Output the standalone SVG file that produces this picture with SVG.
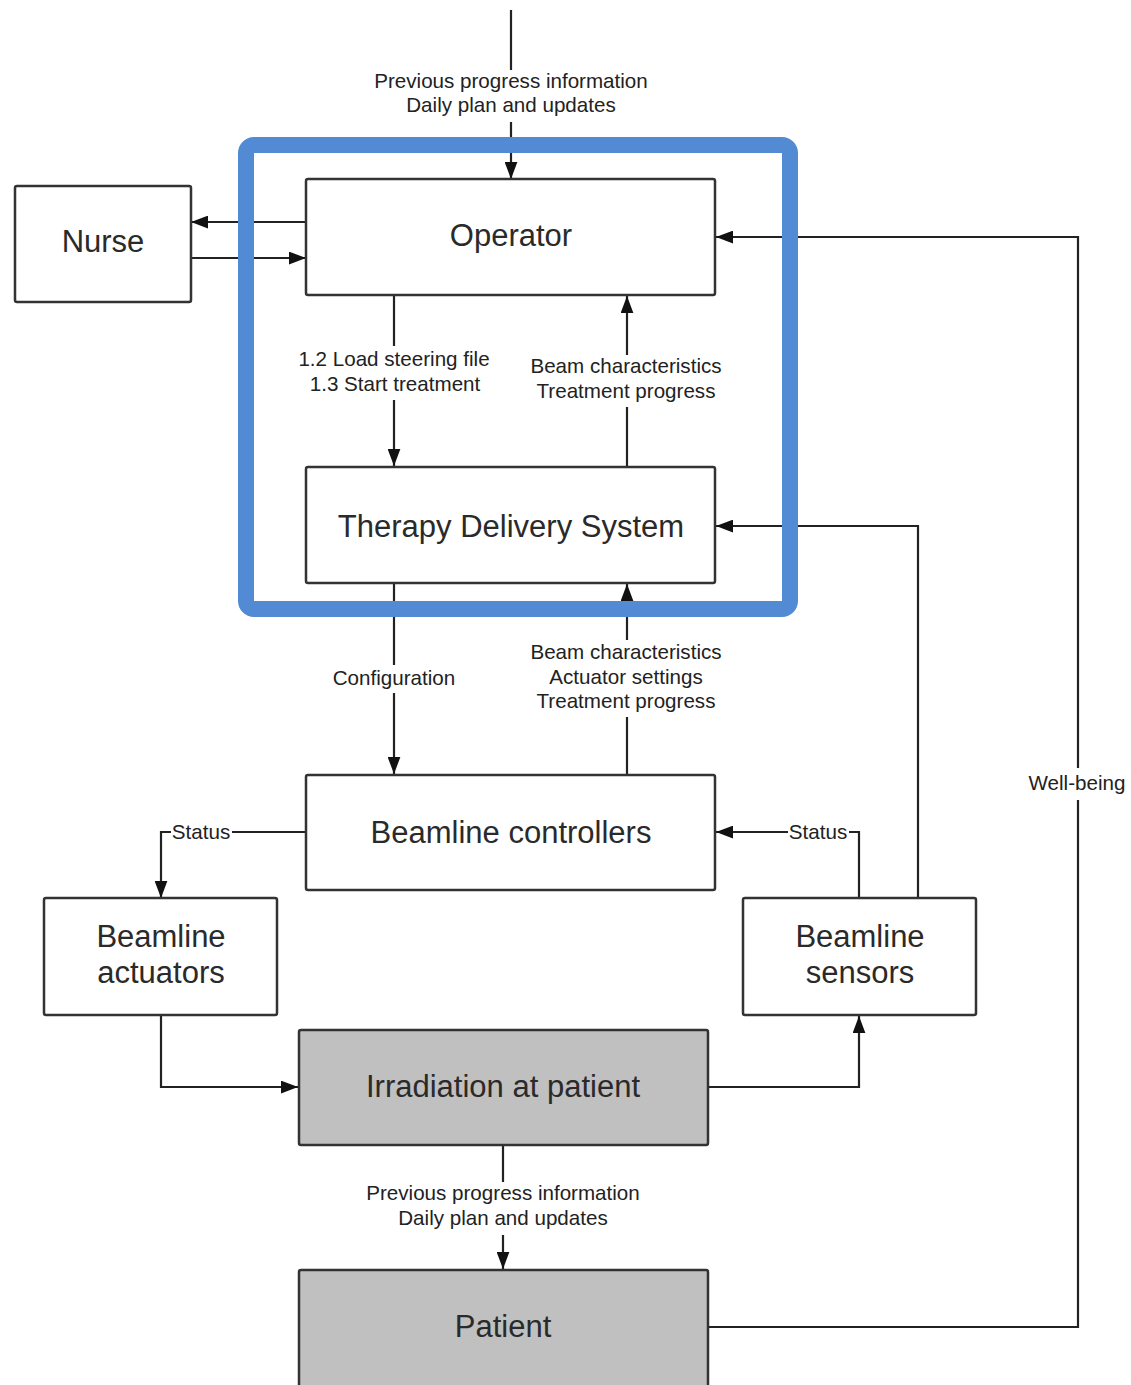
<svg xmlns="http://www.w3.org/2000/svg" width="1131" height="1385" viewBox="0 0 1131 1385">
  <style>
    .box { fill: #ffffff; stroke: #333333; stroke-width: 2.5; }
    .grey { fill: #c0c0c0; }
    .node { font-family: "Liberation Sans", Arial, sans-serif; font-size: 31px; fill: #2a2a2a; text-anchor: middle; }
    .lbl { font-family: "Liberation Sans", Arial, sans-serif; font-size: 20.6px; fill: #222222; text-anchor: middle; }
    .wire { fill: none; stroke: #222222; stroke-width: 2.2; }
    .arr { marker-end: url(#head); }
  </style>
  <defs>
    <marker id="head" viewBox="0 0 16 12" refX="16" refY="6" markerWidth="17" markerHeight="13" markerUnits="userSpaceOnUse" orient="auto">
      <path d="M0,0 L16,6 L0,12 z" fill="#111111"/>
    </marker>
  </defs>

  <rect width="1131" height="1385" fill="#ffffff"/>

  <!-- connectors -->
  <g id="connectors">
    <!-- incoming plan information -->
    <path class="wire" d="M511,10 V70"/>
    <path class="wire arr" d="M511,122 V179"/>
    <!-- operator / nurse -->
    <path class="wire arr" d="M312,222 H191"/>
    <path class="wire arr" d="M191,258 H306"/>
    <!-- operator to therapy delivery system -->
    <path class="wire" d="M394,295 V346"/>
    <path class="wire arr" d="M394,400 V466"/>
    <!-- therapy delivery system to operator -->
    <path class="wire" d="M627,467 V407"/>
    <path class="wire arr" d="M627,355 V296"/>
    <!-- configuration -->
    <path class="wire" d="M394,583 V665"/>
    <path class="wire arr" d="M394,693 V774"/>
    <!-- controllers feedback -->
    <path class="wire" d="M627,775 V717"/>
    <path class="wire arr" d="M627,640 V584"/>
    <!-- status to actuators -->
    <path class="wire" d="M306,832 H232"/>
    <path class="wire arr" d="M171,832 H161 V898"/>
    <!-- status from sensors -->
    <path class="wire" d="M859,898 V832 H849"/>
    <path class="wire arr" d="M788,832 H716"/>
    <!-- sensors to therapy delivery system -->
    <path class="wire arr" d="M918,898 V526 H716"/>
    <!-- actuators to irradiation -->
    <path class="wire arr" d="M161,1015 V1087 H298"/>
    <!-- irradiation to sensors -->
    <path class="wire arr" d="M708,1087 H859 V1016"/>
    <!-- irradiation to patient -->
    <path class="wire" d="M503,1145 V1182"/>
    <path class="wire arr" d="M503,1235 V1269"/>
    <!-- well-being loop -->
    <path class="wire" d="M708,1327 H1078 V800"/>
    <path class="wire arr" d="M1078,768 V237 H716"/>

    <!-- connector labels -->
    <text class="lbl" x="511" y="88">Previous progress information</text>
    <text class="lbl" x="511" y="112">Daily plan and updates</text>
    <text class="lbl" x="394" y="366">1.2 Load steering file</text>
    <text class="lbl" x="395" y="391">1.3 Start treatment</text>
    <text class="lbl" x="626" y="373">Beam characteristics</text>
    <text class="lbl" x="626" y="398">Treatment progress</text>
    <text class="lbl" x="394" y="685">Configuration</text>
    <text class="lbl" x="626" y="659">Beam characteristics</text>
    <text class="lbl" x="626" y="684">Actuator settings</text>
    <text class="lbl" x="626" y="708">Treatment progress</text>
    <text class="lbl" x="201" y="839">Status</text>
    <text class="lbl" x="818" y="839">Status</text>
    <text class="lbl" x="1077" y="790">Well-being</text>
    <text class="lbl" x="503" y="1200">Previous progress information</text>
    <text class="lbl" x="503" y="1225">Daily plan and updates</text>
  </g>

  <!-- nodes -->
  <g id="nurse">
    <rect class="box" x="15" y="186" width="176" height="116" rx="2"/>
    <text class="node" x="103" y="252" fill="#444">Nurse</text>
  </g>
  <g id="operator">
    <rect class="box" x="306" y="179" width="409" height="116" rx="2"/>
    <text class="node" x="511" y="246">Operator</text>
  </g>
  <g id="therapy-delivery-system">
    <rect class="box" x="306" y="467" width="409" height="116" rx="2"/>
    <text class="node" x="511" y="537">Therapy Delivery System</text>
  </g>
  <g id="beamline-controllers">
    <rect class="box" x="306" y="775" width="409" height="115" rx="2"/>
    <text class="node" x="511" y="843">Beamline controllers</text>
  </g>
  <g id="beamline-actuators">
    <rect class="box" x="44" y="898" width="233" height="117" rx="2"/>
    <text class="node" x="161" y="947">Beamline</text>
    <text class="node" x="161" y="983">actuators</text>
  </g>
  <g id="beamline-sensors">
    <rect class="box" x="743" y="898" width="233" height="117" rx="2"/>
    <text class="node" x="860" y="947">Beamline</text>
    <text class="node" x="860" y="983">sensors</text>
  </g>
  <g id="irradiation">
    <rect class="box grey" x="299" y="1030" width="409" height="115" rx="2"/>
    <text class="node" x="503" y="1097">Irradiation at patient</text>
  </g>
  <g id="patient">
    <rect class="box grey" x="299" y="1270" width="409" height="130" rx="2"/>
    <text class="node" x="503" y="1337">Patient</text>
  </g>

  <!-- highlighted region -->
  <rect x="246" y="145" width="544" height="464" rx="8" fill="none" stroke="#528bd3" stroke-width="16"/>
</svg>
